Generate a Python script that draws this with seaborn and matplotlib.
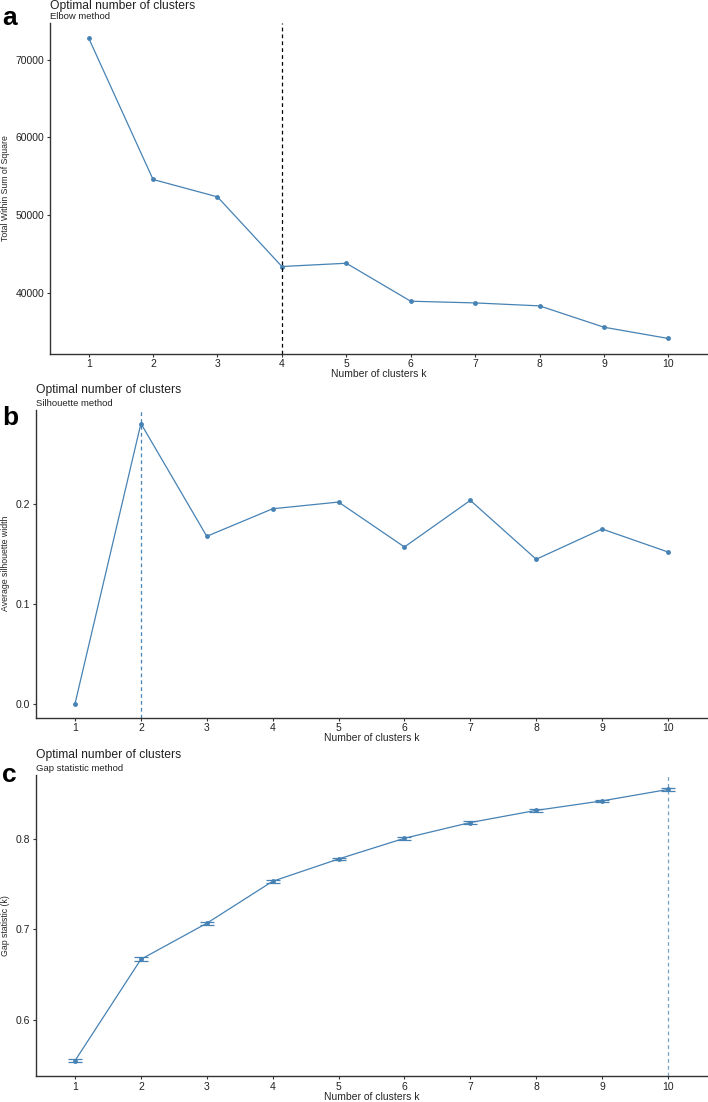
import numpy as np
import pandas as pd
import matplotlib
matplotlib.use("Agg")
import matplotlib.pyplot as plt
import seaborn as sns
from matplotlib import font_manager

# ---- data ----
k_values = [1, 2, 3, 4, 5, 6, 7, 8, 9, 10]
wss_values = [72780, 54560, 52320, 43350, 43770, 38880, 38660, 38280, 35530, 34080]
silhouette_values = [0.0, 0.2807, 0.1677, 0.1953, 0.2020, 0.1570, 0.2037, 0.1447, 0.1750, 0.1520]
gap_values = [0.5547, 0.6667, 0.7065, 0.7529, 0.7775, 0.8004, 0.8178, 0.8312, 0.8417, 0.8543]
gap_se = [0.0018, 0.0020, 0.0017, 0.0016, 0.0015, 0.0015, 0.0014, 0.0014, 0.0014, 0.0014]

best_k_elbow = 4
best_k_silhouette = 2
best_k_gap = 10

wss_ticks = [40000, 50000, 60000, 70000]
sil_ticks = [0.0, 0.1, 0.2]
gap_ticks = [0.6, 0.7, 0.8]

LINE_COLOR = "steelblue"

sns.set_theme(style="ticks")
plt.rcParams['font.family'] = ['Liberation Sans', 'DejaVu Sans']

try:
    font_manager.findfont('Liberation Sans Narrow', fallback_to_default=False)
    YLAB_FAMILY, YLAB_SIZE = ['Liberation Sans Narrow', 'Liberation Sans'], 7.6
except Exception:
    YLAB_FAMILY, YLAB_SIZE = ['Liberation Sans', 'DejaVu Sans'], 6.3


def expand(lo, hi, frac=0.05):
    pad = (hi - lo) * frac
    return lo - pad, hi + pad


def style_axis(ax, ylabel, yticks, ylim):
    ax.set_xlim(0.4, 10.6)
    ax.set_ylim(*ylim)
    ax.set_xticks(k_values)
    ax.set_xticklabels([str(k) for k in k_values])
    ax.set_yticks(yticks)
    ax.set_xlabel("Number of clusters k", fontsize=7.5, labelpad=0)
    ax.set_ylabel(ylabel, family=YLAB_FAMILY, fontsize=YLAB_SIZE, labelpad=4)
    ax.tick_params(axis='both', labelsize=7.5, length=2.5, width=0.8,
                   color='#333333', labelcolor='#222222', pad=1.5)
    for side in ['top', 'right']:
        ax.spines[side].set_visible(False)
    for side in ['left', 'bottom']:
        ax.spines[side].set_color('#333333')
        ax.spines[side].set_linewidth(1.0)
    ax.grid(False)


def add_titles(ax, subtitle, title_off=14):
    ax.annotate("Optimal number of clusters", xy=(0, 1), xycoords='axes fraction',
                xytext=(0, title_off), textcoords='offset points', fontsize=8.7,
                color='#222222', ha='left', va='center')
    ax.annotate(subtitle, xy=(0, 1), xycoords='axes fraction',
                xytext=(0, 4.6), textcoords='offset points', fontsize=6.8,
                color='#222222', ha='left', va='center')


fig = plt.figure(figsize=(7.08, 11.02), dpi=100)
W, H = 708.0, 1102.0


def axes_px(left, right, top, bottom):
    return fig.add_axes([left / W, 1 - bottom / H, (right - left) / W, (bottom - top) / H])


ax_a = axes_px(50, 707, 23, 353.5)
ax_b = axes_px(35.5, 707.5, 409.5, 717.7)
ax_c = axes_px(35.5, 707.5, 774.5, 1076)

df = pd.DataFrame({"k": k_values, "wss": wss_values, "silhouette": silhouette_values,
                   "gap": gap_values, "se": gap_se})

# a: elbow
sns.lineplot(data=df, x="k", y="wss", ax=ax_a, color=LINE_COLOR, lw=0.9,
             marker='o', markersize=3.5, markeredgewidth=0)
ax_a.axvline(best_k_elbow, color='black', ls=(0, (3, 2.5)), lw=0.9)
style_axis(ax_a, "Total Within Sum of Square", wss_ticks,
           expand(min(wss_values), max(wss_values)))
add_titles(ax_a, "Elbow method", title_off=12.2)

# b: silhouette
sns.lineplot(data=df, x="k", y="silhouette", ax=ax_b, color=LINE_COLOR, lw=0.9,
             marker='o', markersize=3.5, markeredgewidth=0)
ax_b.axvline(best_k_silhouette, color=LINE_COLOR, ls=(0, (3, 2.5)), lw=0.9)
style_axis(ax_b, "Average silhouette width", sil_ticks,
           expand(min(silhouette_values), max(silhouette_values)))
add_titles(ax_b, "Silhouette method")

# c: gap statistic
sns.lineplot(data=df, x="k", y="gap", ax=ax_c, color=LINE_COLOR, lw=0.9,
             marker='o', markersize=3.5, markeredgewidth=0)
ax_c.errorbar(df["k"], df["gap"], yerr=df["se"], fmt='none', ecolor=LINE_COLOR,
              elinewidth=0.9, capsize=4.8, capthick=0.9)
ax_c.axvline(best_k_gap, color=LINE_COLOR, ls=(0, (3, 2.5)), lw=0.9, alpha=0.75)
lo = min(g - s for g, s in zip(gap_values, gap_se))
hi = max(g + s for g, s in zip(gap_values, gap_se))
style_axis(ax_c, "Gap statistic (k)", gap_ticks, expand(lo, hi))
add_titles(ax_c, "Gap statistic method")

# panel letters
for letter, ypx in [("a", 18), ("b", 418), ("c", 775)]:
    fig.text(2 / W, 1 - ypx / H, letter, fontsize=19, fontweight='bold',
             ha='left', va='center', color='black')

fig.savefig("out.png", dpi=100)
